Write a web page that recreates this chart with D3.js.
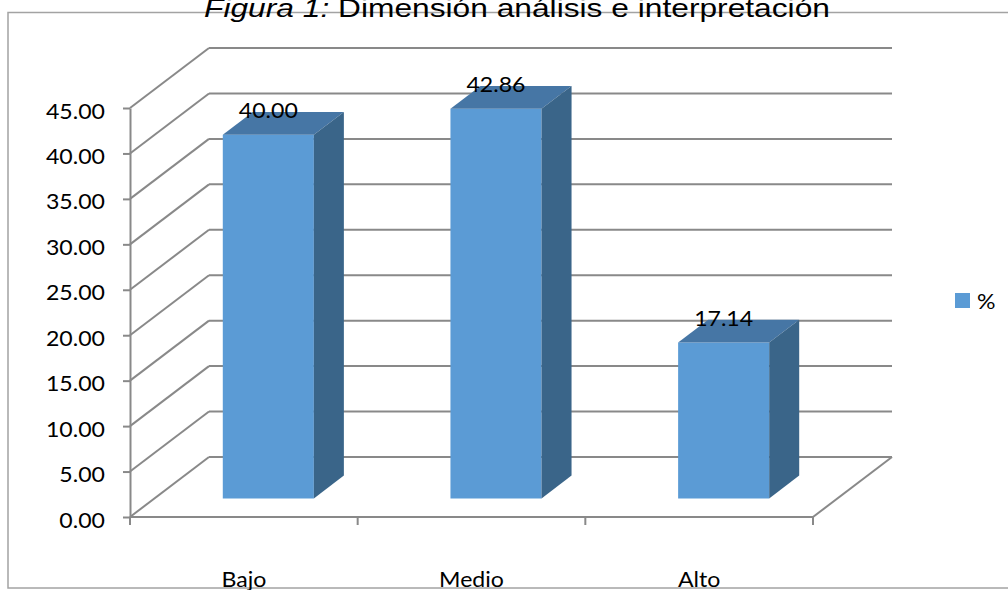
<!DOCTYPE html>
<html lang="es">
<head>
<meta charset="UTF-8">
<title>Figura 1</title>
<script src="https://d3js.org/d3.v7.min.js"></script>
<style>
  body { margin: 0; background: #fff; }
  svg { display: block; }
</style>
</head>
<body>
<svg width="1008" height="590"></svg>
<script>
  // datos
  const categories = ["Bajo", "Medio", "Alto"];
  const values = [40.00, 42.86, 17.14];
  const yTicks = [0, 5, 10, 15, 20, 25, 30, 35, 40, 45];
  const seriesName = "%";

  const svg = d3.select("svg");

  // escalas del plano frontal
  const x = d3.scaleBand().domain(categories).range([130, 813]).padding(0);
  const y = d3.scaleLinear().domain([0, 45]).range([517, 108]);

  // profundidad 3D: desplazamiento del fondo
  const depthX = 79, depthY = -60;
  const px = (xx, d) => xx + d * depthX;
  const py = (yy, d) => yy + d * depthY;

  const gridColor = "#898989";
  const sx = 1.1; // ancho de letra tipo Calibri

  // borde del gráfico
  svg.append("rect")
    .attr("x", 8).attr("y", 12.5)
    .attr("width", 1010).attr("height", 575.5)
    .attr("fill", "none").attr("stroke", "#a3a3a3").attr("stroke-width", 1.5);

  // título (cortado arriba)
  const title = svg.append("text")
    .attr("transform", "translate(517,17) scale(1.22,1)")
    .attr("text-anchor", "middle")
    .style("font-family", "'Liberation Sans', Arial, sans-serif")
    .style("font-size", "26px")
    .attr("fill", "#000");
  title.append("tspan").style("font-style", "italic").text("Figura 1:");
  title.append("tspan").text(" Dimensión análisis e interpretación");

  // pared del fondo y pared izquierda
  const x0 = x.range()[0], x1 = x.range()[1];
  const grid = svg.append("g")
    .attr("fill", "none").attr("stroke", gridColor).attr("stroke-width", 2);

  grid.selectAll(".back")
    .data(yTicks)
    .enter().append("line")
    .attr("x1", px(x0, 1)).attr("x2", px(x1, 1))
    .attr("y1", d => py(y(d), 1)).attr("y2", d => py(y(d), 1));

  grid.selectAll(".side")
    .data(yTicks)
    .enter().append("line")
    .attr("x1", px(x0, 0)).attr("x2", px(x0, 1))
    .attr("y1", d => y(d)).attr("y2", d => py(y(d), 1));

  // piso: borde frontal y lateral derecho
  grid.append("line")
    .attr("x1", x0).attr("x2", x1)
    .attr("y1", y(0)).attr("y2", y(0));
  grid.append("line")
    .attr("x1", x1).attr("x2", px(x1, 1))
    .attr("y1", y(0)).attr("y2", py(y(0), 1));

  // marcas del eje x
  const xTicks = categories.map(c => x(c)).concat([x1]);
  grid.selectAll(".xt")
    .data(xTicks)
    .enter().append("line")
    .attr("x1", d => d).attr("x2", d => d)
    .attr("y1", y(0)).attr("y2", y(0) + 8);

  // eje y
  const yAxis = d3.axisLeft(y)
    .tickValues(yTicks)
    .tickFormat(d3.format(".2f"))
    .tickSize(7)
    .tickSizeOuter(0);

  const yAxisG = svg.append("g")
    .attr("transform", `translate(${x0},0)`)
    .call(yAxis);
  yAxisG.select(".domain").attr("stroke", gridColor).attr("stroke-width", 2);
  yAxisG.selectAll(".tick line").attr("stroke", gridColor).attr("stroke-width", 2);
  yAxisG.selectAll(".tick text")
    .attr("x", -25 / sx)
    .attr("dy", 10)
    .attr("transform", `scale(${sx},1)`)
    .attr("fill", "#000")
    .style("font-family", "Lato, 'Open Sans', sans-serif")
    .style("font-size", "21px");

  // barras 3D
  const dFront = 0.31, dBack = 0.69;
  const barW = x.bandwidth() * 0.4;
  const bars = categories.map((c, i) => {
    const xl = x(c) + (x.bandwidth() - barW) / 2;
    return { c: c, v: values[i], xl: xl, xr: xl + barW };
  });

  const poly = pts => "M" + pts.map(p => p.join(",")).join("L") + "Z";

  const barG = svg.selectAll(".bar")
    .data(bars)
    .enter().append("g");

  // cara frontal
  barG.append("path")
    .attr("fill", "#5b9bd5")
    .attr("d", d => poly([
      [px(d.xl, dFront), py(y(d.v), dFront)],
      [px(d.xr, dFront), py(y(d.v), dFront)],
      [px(d.xr, dFront), py(y(0), dFront)],
      [px(d.xl, dFront), py(y(0), dFront)]
    ]));

  // cara superior
  barG.append("path")
    .attr("fill", "#4676a5")
    .attr("d", d => poly([
      [px(d.xl, dFront), py(y(d.v), dFront)],
      [px(d.xr, dFront), py(y(d.v), dFront)],
      [px(d.xr, dBack), py(y(d.v), dBack)],
      [px(d.xl, dBack), py(y(d.v), dBack)]
    ]));

  // cara lateral
  barG.append("path")
    .attr("fill", "#3a6589")
    .attr("d", d => poly([
      [px(d.xr, dFront), py(y(d.v), dFront)],
      [px(d.xr, dBack), py(y(d.v), dBack)],
      [px(d.xr, dBack), py(y(0), dBack)],
      [px(d.xr, dFront), py(y(0), dFront)]
    ]));

  // etiquetas de valor
  barG.append("text")
    .attr("transform", d =>
      `translate(${px((d.xl + d.xr) / 2, dFront)},${py(y(d.v), dFront) - 17}) scale(${sx},1)`)
    .attr("text-anchor", "middle")
    .style("font-family", "Lato, 'Open Sans', sans-serif")
    .style("font-size", "21px")
    .attr("fill", "#000")
    .text(d => d3.format(".2f")(d.v));

  // etiquetas de categoría
  svg.selectAll(".cat")
    .data(categories)
    .enter().append("text")
    .attr("transform", d => `translate(${x(d) + x.bandwidth() / 2},587) scale(${sx},1)`)
    .attr("text-anchor", "middle")
    .style("font-family", "Lato, 'Open Sans', sans-serif")
    .style("font-size", "21px")
    .attr("fill", "#000")
    .text(d => d);

  // leyenda
  const legend = svg.append("g").attr("transform", "translate(955,293)");
  legend.append("rect")
    .attr("width", 15).attr("height", 15)
    .attr("fill", "#5b9bd5");
  legend.append("text")
    .attr("transform", `translate(22,16) scale(${sx},1)`)
    .style("font-family", "Lato, 'Open Sans', sans-serif")
    .style("font-size", "21px")
    .attr("fill", "#000")
    .text(seriesName);
</script>
</body>
</html>
